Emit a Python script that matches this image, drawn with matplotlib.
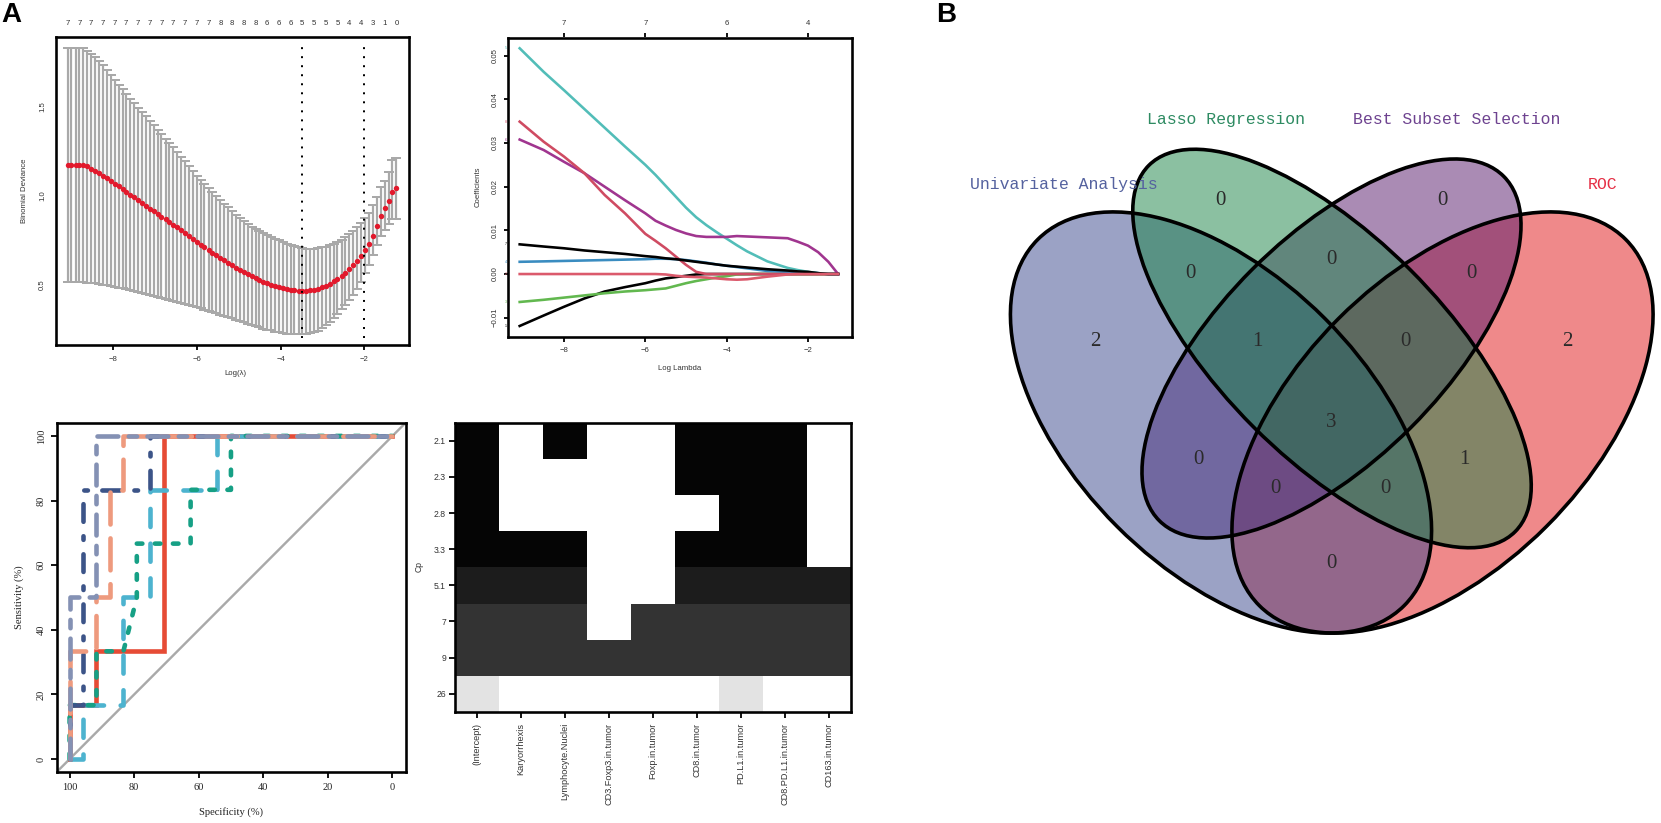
import matplotlib
matplotlib.use("Agg")
import numpy as np
import matplotlib.pyplot as plt
from matplotlib.patches import Ellipse
from matplotlib.colors import to_rgba

W, H = 1661, 823
plt.rcParams['font.family'] = ['Liberation Sans', 'DejaVu Sans']
plt.rcParams['lines.scale_dashes'] = False

# ---------- Panel A1: cross-validation curve ----------
cv_log_lambda = [-9.09,-9.00,-8.90,-8.81,-8.72,-8.62,-8.53,-8.44,-8.34,-8.25,-8.16,-8.06,-7.97,-7.87,-7.78,-7.69,-7.59,
                 -7.50,-7.41,-7.31,-7.22,-7.13,-7.03,-6.94,-6.85,-6.75,-6.66,-6.57,-6.47,-6.38,-6.28,-6.19,-6.10,-6.00,
                 -5.91,-5.82,-5.72,-5.63,-5.54,-5.44,-5.35,-5.26,-5.16,-5.07,-4.98,-4.88,-4.79,-4.69,-4.60,-4.51,-4.41,
                 -4.32,-4.23,-4.13,-4.04,-3.95,-3.85,-3.76,-3.67,-3.57,-3.48,-3.39,-3.29,-3.20,-3.10,-3.01,-2.92,-2.82,
                 -2.73,-2.64,-2.54,-2.45,-2.36,-2.26,-2.17,-2.08,-1.98,-1.89,-1.80,-1.70,-1.61,-1.51,-1.42,-1.33,-1.23]
cv_mean = [1.172,1.172,1.172,1.172,1.172,1.165,1.153,1.142,1.127,1.112,1.098,1.084,1.068,1.052,1.036,1.020,1.005,
           .991,.975,.959,.942,.926,.911,.896,.880,.867,.852,.836,.822,.806,.790,.773,.757,.741,.724,.708,.692,.678,
           .664,.650,.636,.622,.608,.595,.582,.570,.558,.547,.536,.525,.515,.506,.498,.490,.484,.478,.473,.469,.466,
           .464,.463,.464,.467,.470,.476,.483,.493,.504,.517,.532,.549,.566,.585,.609,.633,.660,.694,.727,.774,.831,
           .885,.929,.970,1.019,1.041]
cv_upper = [1.831,1.831,1.831,1.831,1.831,1.818,1.800,1.780,1.760,1.735,1.708,1.682,1.654,1.627,1.600,1.573,1.547,
            1.520,1.497,1.472,1.447,1.423,1.398,1.373,1.348,1.322,1.298,1.272,1.246,1.220,1.193,1.166,1.139,1.112,
            1.087,1.065,1.043,1.021,.999,.977,.956,.935,.913,.893,.873,.855,.838,.826,.815,.803,.791,.780,.769,.758,
            .748,.738,.729,.721,.714,.708,.703,.701,.701,.702,.705,.708,.712,.720,.728,.738,.750,.765,.782,.803,.825,
            .848,.872,.900,.947,.994,1.047,1.085,1.135,1.200,1.210]
cv_lower = [.511,.511,.511,.511,.511,.510,.508,.505,.502,.499,.495,.491,.486,.482,.477,.472,.467,.462,.457,.451,.446,
            .441,.436,.431,.425,.420,.414,.408,.402,.396,.390,.384,.377,.371,.364,.358,.351,.344,.336,.329,.322,.315,
            .308,.300,.293,.286,.279,.272,.265,.258,.251,.245,.240,.234,.229,.225,.222,.220,.219,.218,.218,.220,.224,
            .230,.238,.252,.268,.287,.310,.335,.359,.383,.412,.440,.472,.515,.562,.609,.665,.722,.773,.806,.840,.868,.868]
cv_nonzero = [7,7,7,7,7,7,7,7,7,7,7,7,7,8,8,8,8,6,6,6,5,5,5,5,4,4,3,1,0]
cv_vlines = [-3.48, -2.0]

# ---------- Panel A2: coefficient paths ----------
path_log_lambda = [-9.09,-8.5,-8,-7.5,-7,-6.5,-6,-5.75,-5.5,-5.25,-5,-4.75,-4.5,-4.25,-4,-3.75,-3.5,-3,-2.5,-2.25,-2,-1.75,-1.5,-1.26]
coef_cyan = [.0517,.0463,.0421,.0378,.0335,.0292,.0250,.0227,.0202,.0177,.0152,.0130,.0112,.0096,.0081,.0066,.0052,.0029,.0014,.0009,.0005,.0002,0,0]
coef_pink = [.0349,.0303,.0269,.0231,.0181,.0139,.0092,.0076,.0059,.0040,.0021,.0005,0,0,0,0,0,0,0,0,0,0,0,0]
coef_purple = [.0308,.0284,.0257,.0231,.0200,.0169,.0139,.0122,.0111,.0101,.0093,.0087,.0085,.0085,.0085,.0087,.0086,.0084,.0082,.0074,.0065,.0050,.0028,0]
coef_black1 = [.0068,.0063,.0059,.0054,.0050,.0046,.0041,.0039,.0036,.0034,.0031,.0028,.0025,.0022,.0019,.0017,.0015,.0011,.0008,.0006,.0005,.0002,0,0]
coef_blue = [.0028,.0029,.0030,.0031,.0032,.0033,.0034,.0035,.0035,.0034,.0032,.0029,.0026,.0022,.0019,.0016,.0013,.0007,.0005,.0004,.0004,.0002,0,0]
coef_green = [-.0064,-.0059,-.0054,-.0049,-.0044,-.0040,-.0037,-.0035,-.0033,-.0027,-.0021,-.0016,-.0012,-.0008,-.0005,-.0001,0,0,0,0,0,0,0,0]
coef_black2 = [-.0119,-.0095,-.0075,-.0056,-.0040,-.0030,-.0021,-.0015,-.0010,-.0007,-.0004,-.0001,0,0,0,0,0,0,0,0,0,0,0,0]
coef_pink2 = [0,0,0,0,0,0,0,0,-.0001,-.0004,-.0006,-.0007,-.0008,-.0010,-.0012,-.0013,-.0012,-.0006,-.0001,0,0,0,0,0]
path_series = [("1", coef_black2, "#000000"), ("3", coef_green, "#62B84F"), ("4", coef_blue, "#3A8CC0"),
               ("5", coef_cyan, "#52BDB8"), ("6", coef_purple, "#A0358F"), ("8", coef_pink, "#CF4B62"),
               ("7", coef_black1, "#000000"), ("2", coef_pink2, "#DB5A6C")]
path_top_ticks = [-8, -6, -4, -2]
path_top_labels = ["7", "7", "6", "4"]

# ---------- Panel A3: ROC curves ----------
foxp_spec = [100,100,91.67,91.67,70.83,70.83,0]
foxp_sens = [0,16.67,16.67,33.33,33.33,100,100]
cd163_spec = [100,95.83,95.83,83.33,83.33,75,75,54.17,54.17,0]
cd163_sens = [0,0,16.67,16.67,50,50,83.33,83.33,100,100]
cd3_spec = [100,100,91.67,91.67,83.33,79.17,79.17,62.5,62.5,50,50,0]
cd3_sens = [0,16.67,16.67,33.33,33.33,50,66.67,66.67,83.33,83.33,100,100]
cd8_spec = [100,100,95.83,95.83,75,75,0]
cd8_sens = [0,16.67,16.67,83.33,83.33,100,100]
pdl1_spec = [100,100,91.67,91.67,87.5,87.5,83.33,83.33,0]
pdl1_sens = [0,33.33,33.33,50,50,83.33,83.33,100,100]
cd8pd_spec = [100,100,91.67,91.67,0]
cd8pd_sens = [0,50,50,100,100]
roc_names = ["Foxp in tumor", "CD163 in tumor", "CD3+Foxp3 in tumor", "CD8 in tumor", "PD-L1 in tumor", "CD8+PD-L1 in tumor"]
roc_auc = ["79.1667", "77.7778", "77.4306", "93.0556", "91.6667", "95.8333"]
roc_colors = ["#E64B35", "#4DB3CF", "#16A085", "#3C5488", "#EE9A7E", "#8491B4"]

# ---------- Panel A4: best-subset selection grid ----------
cp_labels = ["2.1", "2.3", "2.8", "3.3", "5.1", "7", "9", "26"]
cp_shade = [0.02, 0.02, 0.02, 0.02, 0.11, 0.20, 0.20, 0.89]
subset_vars = ["(Intercept)", "Karyorrhexis", "Lymphocyte.Nuclei", "CD3.Foxp3.in.tumor", "Foxp.in.tumor",
               "CD8.in.tumor", "PD.L1.in.tumor", "CD8.PD.L1.in.tumor", "CD163.in.tumor"]
subset_in = [[1,0,1,0,0,1,1,1,0],
             [1,0,0,0,0,1,1,1,0],
             [1,0,0,0,0,0,1,1,0],
             [1,1,1,0,0,1,1,1,0],
             [1,1,1,0,0,1,1,1,1],
             [1,1,1,0,1,1,1,1,1],
             [1,1,1,1,1,1,1,1,1],
             [1,0,0,0,0,0,1,0,0]]

# ---------- Panel B: Venn ----------
venn_names = ["Univariate Analysis", "Lasso Regression", "Best Subset Selection", "ROC"]
venn_counts = [2, 0, 0, 2, 0, 0, 0, 1, 0, 0, 3, 0, 1, 0, 0]

fig = plt.figure(figsize=(W/100, H/100), dpi=100)
px = 0.72

def panel(l, t, r, b):
    ax = fig.add_axes([l/W, 1-b/H, (r-l)/W, (b-t)/H])
    for s in ax.spines.values():
        s.set_linewidth(2.6*px)
        s.set_color("black")
    return ax

ov = fig.add_axes([0, 0, 1, 1])
ov.set_xlim(0, W); ov.set_ylim(H, 0); ov.axis("off")
SANS = "#333333"

# A1
ax = panel(56, 37, 409, 345)
ax.set_xlim(-9.37, -0.93); ax.set_ylim(0.158, 1.895)
m = np.array(cv_mean)
ax.errorbar(cv_log_lambda, cv_mean, yerr=[m-np.array(cv_lower), np.array(cv_upper)-m], fmt="none",
            ecolor="#A9A9A9", elinewidth=2.2*px, capsize=4.6*px, capthick=2.0*px, zorder=2)
ax.plot(cv_log_lambda, cv_mean, "o", color="#E2192C", ms=5.4*px, mew=0, zorder=3)
for v in cv_vlines:
    ax.axvline(v, color="black", lw=2*px, ls=(0, (1.4, 5.1)), ymin=0.023, ymax=0.978, zorder=4)
ax.set_xticks([-8, -6, -4, -2]); ax.set_xticklabels(["−8", "−6", "−4", "−2"])
ax.set_yticks([0.5, 1.0, 1.5]); ax.set_yticklabels(["0.5", "1.0", "1.5"], rotation=90, va="center")
ax.tick_params(axis="x", length=4.7*px, width=1.8*px, labelsize=5.6, labelcolor=SANS, pad=6*px)
ax.tick_params(axis="y", length=0, labelsize=5.6, labelcolor=SANS, pad=10*px)
trans = ax.get_xaxis_transform()
for x, n in zip(cv_log_lambda[::3], cv_nonzero):
    ax.text(x, 1.045, str(n), transform=trans, ha="center", va="center", fontsize=5.6, color=SANS)
ov.text(24.5, 191, "Binomial Deviance", rotation=90, ha="center", va="center", fontsize=5.6, color=SANS)
ov.text(235, 373, "Log(λ)", ha="center", va="center", fontsize=5.6, color=SANS)

# A2
ax = panel(508, 37.5, 851.7, 337)
ax.set_xlim(-9.377, -0.926); ax.set_ylim(-0.01442, 0.05417)
for lab, vals, col in path_series:
    ax.plot(path_log_lambda, vals, color=col, lw=2.6*px, solid_joinstyle="round")
    ax.text(path_log_lambda[0]-0.35, vals[0], lab, fontsize=2.6, ha="center", va="center", color=col)
ax.set_xticks(path_top_ticks); ax.set_xticklabels(["−8", "−6", "−4", "−2"])
yt = [-0.01, 0, 0.01, 0.02, 0.03, 0.04, 0.05]
ax.set_yticks(yt); ax.set_yticklabels(["−0.01", "0.00", "0.01", "0.02", "0.03", "0.04", "0.05"], rotation=90, va="center")
ax.tick_params(axis="x", length=4.5*px, width=1.8*px, labelsize=5.6, labelcolor=SANS, pad=6*px)
ax.tick_params(axis="y", length=4.5*px, width=1.8*px, labelsize=5.6, labelcolor=SANS, pad=4.5*px)
top = ax.secondary_xaxis("top")
top.set_xticks(path_top_ticks); top.set_xticklabels(path_top_labels)
top.tick_params(length=4.5*px, width=1.8*px, labelsize=5.6, labelcolor=SANS, pad=6*px)
top.spines["top"].set_visible(False)
ov.text(478, 187, "Coefficients", rotation=90, ha="center", va="center", fontsize=5.6, color=SANS)
ov.text(680, 368, "Log Lambda", ha="center", va="center", fontsize=5.6, color=SANS)

# A3
SERIF = "Liberation Serif"
ax = panel(57, 422.7, 405.7, 771.7)
ax.set_xlim(103.9, -4.15); ax.set_ylim(-3.93, 104.1)
ax.plot([103.9, -4.15], [-3.93, 104.1], color="#A9A9A9", lw=2.4*px, zorder=1)
dashes = [(0, (13, 12)), (0, (4, 9)), (0, (12.7, 10.4, 2.6, 10.4)), (0, (23, 10)), (0, (15, 7.5, 6, 7.5))]
series = [(cd163_spec, cd163_sens, 1), (cd3_spec, cd3_sens, 2), (cd8_spec, cd8_sens, 3),
          (pdl1_spec, pdl1_sens, 4), (cd8pd_spec, cd8pd_sens, 5)]
ax.plot(foxp_spec, foxp_sens, color=roc_colors[0], lw=4.6*px, solid_joinstyle="miter", zorder=2)
for (sx, sy, i), d in zip(series, dashes):
    ax.plot(sx, sy, color=roc_colors[i], lw=4.6*px, ls=d, dash_capstyle="round", zorder=2+i)
ticks = [100, 80, 60, 40, 20, 0]
ax.set_xticks(ticks); ax.set_yticks(ticks)
ax.set_xticklabels([str(t) for t in ticks], family=SERIF)
ax.set_yticklabels([str(t) for t in ticks], family=SERIF, rotation=90, va="center")
ax.tick_params(axis="both", length=6*px, width=1.8*px, labelsize=7.5, labelcolor="#222222", pad=5*px)
ov.text(231, 812, "Specificity (%)", ha="center", va="center", fontsize=7.6, family=SERIF, color="#222222")
ov.text(19, 597, "Sensitivity (%)", rotation=90, ha="center", va="center", fontsize=7.6, family=SERIF, color="#222222")
ov.text(295, 597, "AUC", ha="center", va="center", fontsize=7.6, family=SERIF, color="#AAAAAA", fontweight="bold")
for n, a, c, y in zip(roc_names, roc_auc, roc_colors, [629, 650, 671, 691, 710, 733]):
    ov.text(231, y, f"{n} : {a}", ha="left", va="center", fontsize=7.8, family=SERIF, color=c, alpha=0.9)

# A4
ax = panel(455, 422.7, 851, 711.7)
shade = np.array(cp_shade)[:, None]
grid = np.where(np.array(subset_in) == 1, shade, 1.0)
ax.imshow(grid, cmap="gray", vmin=0, vmax=1, aspect="auto", interpolation="nearest")
ax.set_xticks(range(len(subset_vars))); ax.set_xticklabels(subset_vars, rotation=90, va="top")
ax.set_yticks(range(len(cp_labels))); ax.set_yticklabels(cp_labels)
ax.tick_params(axis="x", length=6*px, width=1.8*px, labelsize=6.6, labelcolor=SANS, pad=5*px)
ax.tick_params(axis="y", length=6*px, width=1.8*px, labelsize=6.2, labelcolor=SANS, pad=3*px)
ov.text(419, 567, "Cp", rotation=90, ha="center", va="center", fontsize=6.2, color=SANS)

# B
fills = ["#E11517", "#57196B", "#39478D", "#198345"]
geom = [((1442.5, 422.5), 259, 147, -45), ((1331.5, 348.5), 243.5, 112, -45),
        ((1221, 422.5), 259, 147, 45), ((1332, 348.5), 259, 111, 45)]
for (c, a, b, ang), col in zip(geom, fills):
    ov.add_patch(Ellipse(c, 2*a, 2*b, angle=ang, facecolor=to_rgba(col, 0.5), edgecolor="none", zorder=1))
for (c, a, b, ang) in geom:
    ov.add_patch(Ellipse(c, 2*a, 2*b, angle=ang, fill=False, edgecolor="black", lw=3.6*px, zorder=2))
MONO = "Liberation Mono"
label_pos = [(970, 184), (1147, 119), (1353, 119), (1588, 184)]
label_cols = ["#55629F", "#2E8B62", "#6E4390", "#E52F45"]
for n, p, col in zip(venn_names, label_pos, label_cols):
    ov.text(p[0], p[1], n, ha="left", va="center", fontsize=11.9, family=MONO, color=col, zorder=3)
region_pos = [(1095, 341), (1220, 200), (1442, 200), (1567, 341), (1190, 274), (1331, 259), (1471, 274),
              (1257, 341), (1405, 341), (1198, 459), (1331, 422), (1385, 488), (1464, 459), (1275, 488), (1331, 563)]
for n, p in zip(venn_counts, region_pos):
    ov.text(p[0], p[1], str(n), ha="center", va="center", fontsize=15, family=SERIF, color="#2A2A2A", zorder=3)

ov.text(1, 15, "A", fontsize=20, fontweight="bold", ha="left", va="center", color="black")
ov.text(936, 15, "B", fontsize=20, fontweight="bold", ha="left", va="center", color="black")

fig.savefig("out.png", dpi=100)
